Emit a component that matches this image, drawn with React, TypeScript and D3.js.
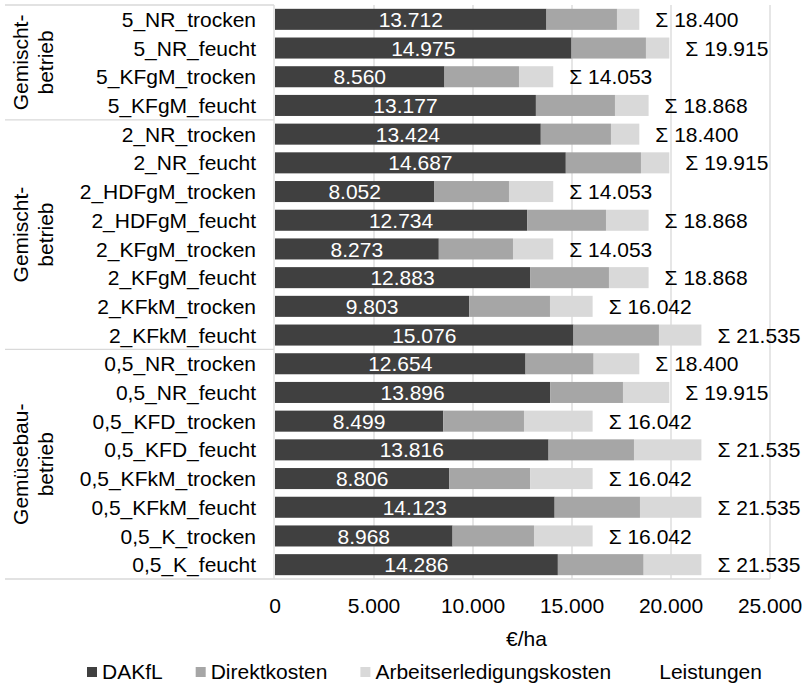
import { useMemo } from "react";
import * as d3 from "d3";

// categories top to bottom
const categories = [
  "5_NR_trocken",
  "5_NR_feucht",
  "5_KFgM_trocken",
  "5_KFgM_feucht",
  "2_NR_trocken",
  "2_NR_feucht",
  "2_HDFgM_trocken",
  "2_HDFgM_feucht",
  "2_KFgM_trocken",
  "2_KFgM_feucht",
  "2_KFkM_trocken",
  "2_KFkM_feucht",
  "0,5_NR_trocken",
  "0,5_NR_feucht",
  "0,5_KFD_trocken",
  "0,5_KFD_feucht",
  "0,5_KFkM_trocken",
  "0,5_KFkM_feucht",
  "0,5_K_trocken",
  "0,5_K_feucht",
];

const dakfl = [
  13712, 14975, 8560, 13177, 13424, 14687, 8052, 12734, 8273, 12883, 9803,
  15076, 12654, 13896, 8499, 13816, 8806, 14123, 8968, 14286,
];
const direktkosten = [
  3559, 3760, 3762, 3993, 3544, 3796, 3765, 3982, 3746, 3984, 4085, 4316,
  3439, 3678, 4076, 4314, 4088, 4310, 4112, 4333,
];
const arbeitskosten = [
  1129, 1180, 1731, 1698, 1432, 1432, 2236, 2152, 2034, 2001, 2154, 2143,
  2307, 2341, 3467, 3405, 3148, 3102, 2962, 2916,
];
const leistungen = [
  18400, 19915, 14053, 18868, 18400, 19915, 14053, 18868, 14053, 18868, 16042,
  21535, 18400, 19915, 16042, 21535, 16042, 21535, 16042, 21535,
];

const groups = [
  { lines: ["Gemischt-", "betrieb"], from: 0, to: 4 },
  { lines: ["Gemischt-", "betrieb"], from: 4, to: 12 },
  { lines: ["Gemüsebau-", "betrieb"], from: 12, to: 20 },
];

const xTicks = [0, 5000, 10000, 15000, 20000, 25000];

const seriesNames = ["DAKfL", "Direktkosten", "Arbeitserledigungskosten", "Leistungen"];
const seriesColors = ["#404040", "#a6a6a6", "#d9d9d9", "none"];

const W = 805;
const H = 684;
const FONT = "'Liberation Sans', Arial, sans-serif";
const FS = 21;

const de = d3.formatLocale({
  decimal: ",",
  thousands: ".",
  grouping: [3],
  currency: ["", " €"],
});
const fmt = de.format(",d");

function measure(text: string) {
  const ctx = document.createElement("canvas").getContext("2d");
  if (!ctx) return text.length * FS * 0.5;
  ctx.font = `${FS}px 'Liberation Sans', Arial, sans-serif`;
  return ctx.measureText(text).width;
}

export default function App() {
  const margin = { top: 5, left: 275, right: 35, bottom: 105 };

  const x = d3
    .scaleLinear()
    .domain([0, 25000])
    .range([margin.left, W - margin.right]);

  const y = d3
    .scaleBand<string>()
    .domain(categories)
    .range([margin.top, H - margin.bottom])
    .paddingInner(0.267)
    .paddingOuter(0.133);

  const stacked = useMemo(() => {
    const rows = categories.map((c, i) => ({
      c,
      a: dakfl[i],
      b: direktkosten[i],
      d: arbeitskosten[i],
    }));
    return d3.stack<any>().keys(["a", "b", "d"])(rows);
  }, []);

  const step = y.step();
  const y0 = margin.top;
  const yBottom = H - margin.bottom;

  // legend layout
  const legendItems = useMemo(() => {
    let cx = 87;
    return seriesNames.map((name, i) => {
      const item = { name, color: seriesColors[i], x: cx };
      cx += 15 + measure(name) + 33;
      return item;
    });
  }, []);

  return (
    <svg
      width={W}
      height={H}
      style={{ position: "absolute", left: 0, top: 0, background: "#fff" }}
      fontFamily={FONT}
      fontSize={FS}
    >
      {/* gridlines */}
      {xTicks.slice(1).map((t) => (
        <line
          key={t}
          x1={x(t)}
          x2={x(t)}
          y1={y0}
          y2={yBottom}
          stroke="#d9d9d9"
          strokeWidth={1.3}
        />
      ))}

      {/* category axis + group separators */}
      <line x1={x(0) - 1} x2={x(0) - 1} y1={y0} y2={yBottom} stroke="#d9d9d9" strokeWidth={1.3} />
      {[0, 4, 12].map((k) => (
        <line
          key={k}
          x1={5}
          x2={x(0) - 1}
          y1={y0 + k * step}
          y2={y0 + k * step}
          stroke="#d9d9d9"
          strokeWidth={1.3}
        />
      ))}
      <line x1={5} x2={x(25000)} y1={yBottom} y2={yBottom} stroke="#d9d9d9" strokeWidth={1.3} />

      {/* bars */}
      {stacked.map((layer, li) => (
        <g key={layer.key} fill={seriesColors[li]}>
          {layer.map((d, i) => (
            <rect
              key={i}
              x={x(d[0])}
              width={x(d[1]) - x(d[0])}
              y={y(categories[i])}
              height={y.bandwidth()}
            />
          ))}
        </g>
      ))}

      {/* DAKfL labels */}
      {categories.map((c, i) => (
        <text
          key={c}
          x={(x(0) + x(dakfl[i])) / 2}
          y={(y(c) ?? 0) + y.bandwidth() / 2}
          dy="0.36em"
          textAnchor="middle"
          fill="#fff"
        >
          {fmt(dakfl[i])}
        </text>
      ))}

      {/* totals */}
      {categories.map((c, i) => (
        <text
          key={c}
          x={x(leistungen[i]) + 16}
          y={(y(c) ?? 0) + y.bandwidth() / 2}
          dy="0.36em"
          fill="#000"
        >
          {"Σ " + fmt(leistungen[i])}
        </text>
      ))}

      {/* category labels */}
      {categories.map((c) => (
        <text
          key={c}
          x={256}
          y={(y(c) ?? 0) + y.bandwidth() / 2}
          dy="0.36em"
          textAnchor="end"
          fill="#000"
        >
          {c}
        </text>
      ))}

      {/* group labels */}
      {groups.map((g, gi) => {
        const cy = y0 + ((g.from + g.to) / 2) * step;
        return (
          <text
            key={gi}
            transform={`translate(28, ${cy}) rotate(-90)`}
            textAnchor="middle"
            fill="#000"
          >
            <tspan x={0} y={0}>
              {g.lines[0]}
            </tspan>
            <tspan x={0} y={25}>
              {g.lines[1]}
            </tspan>
          </text>
        );
      })}

      {/* x ticks */}
      {xTicks.map((t) => (
        <text key={t} x={x(t)} y={613} textAnchor="middle" fill="#000">
          {fmt(t)}
        </text>
      ))}
      <text x={(x(0) + x(25000)) / 2 + 4} y={646} textAnchor="middle" fill="#000">
        €/ha
      </text>

      {/* legend */}
      {legendItems.map((it) => (
        <g key={it.name}>
          {it.color !== "none" && (
            <rect x={it.x} y={667} width={10} height={10} fill={it.color} />
          )}
          <text x={it.x + 15} y={679} fill="#000">
            {it.name}
          </text>
        </g>
      ))}
    </svg>
  );
}
